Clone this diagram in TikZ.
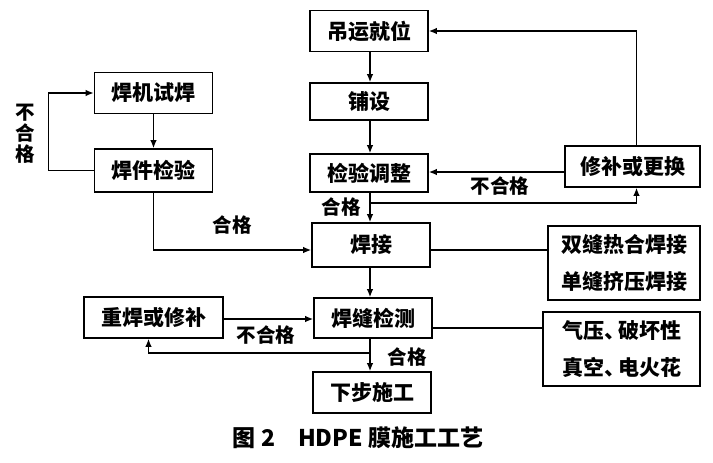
\documentclass[tikz,border=0pt]{standalone}
\usepackage{fontspec}
\setmainfont{Noto Sans CJK SC}
\usetikzlibrary{arrows.meta,positioning}

\begin{document}
\begin{tikzpicture}[
  x=1pt, y=-1pt,
  stepbox/.style={draw, line width=1.6pt, minimum width=118pt,
    minimum height=41pt, inner sep=0pt,
    font=\fontsize{21}{24}\selectfont\bfseries},
  notebox/.style={stepbox, align=center,
    font=\fontsize{21}{37}\selectfont\bfseries},
  arrow/.style={-{Latex[length=8pt,width=6.5pt]}, line width=1.4pt},
  link/.style={line width=1.4pt},
  tag/.style={font=\fontsize{19.5}{21}\selectfont\bfseries, inner sep=1pt}
]
  \useasboundingbox (0,0) rectangle (713,463);
  % main column
  \node[stepbox] (hoist) at (369,31) {吊运就位};
  \node[stepbox,minimum height=37pt] (lay) at (369,101.5) {铺设};
  \node[stepbox,minimum height=38pt] (adjust) at (369,173) {检验调整};
  \node[stepbox,minimum height=44pt] (weld) at (371,245) {焊接};
  \node[stepbox,minimum height=40pt] (seam) at (373,318) {焊缝检测};
  \node[stepbox] (next) at (372,392.5) {下步施工};
  % side boxes
  \node[stepbox,minimum width=135pt] (repair) at (632.5,166.5) {修补或更换};
  \node[stepbox] (trial) at (153.5,93) {焊机试焊};
  \node[stepbox,minimum height=43pt] (check) at (153.5,170.5) {焊件检验};
  \node[stepbox,minimum width=139pt] (reweld) at (153.5,317.5) {重焊或修补};
  \node[notebox,minimum width=152pt,minimum height=74pt] (methods) at (624,263)
    {双缝热合焊接\\单缝挤压焊接};
  \node[notebox,minimum width=157pt,minimum height=74pt] (tests) at (621.5,349)
    {气压、\kern-7pt破坏性\\真空、\kern-7pt电火花};
  \coordinate (split1) at (370,203);
  \coordinate (split2) at (370,353);

  \draw[arrow] (hoist.south -| 370,0) -- (lay.north -| 370,0);
  \draw[arrow] (lay.south -| 370,0) -- (adjust.north -| 370,0);
  \draw[arrow] (adjust.south -| 370,0) -- (weld.north -| 370,0);
  \draw[arrow] (split1) -| ([xshift=4pt]repair.south);
  \draw[arrow] (repair.west |- 0,172) -- (adjust.east |- 0,172);
  \draw[arrow] ([xshift=4pt]repair.north) |- (hoist.east);
  \node[tag] at (500,186) {不合格};
  \node[tag] at (341,207) {合格};

  \draw[arrow] (trial) -- (check);
  \draw[arrow] (check.west) -- ++(-45,0) |- (trial.west);
  \node[tag,align=center] at (25,134) {不\\合\\格};
  \draw[arrow] (check.south) |- ([yshift=-5pt]weld.west);
  \node[tag] at (232,225) {合格};
  \draw[link] ([yshift=-5pt]weld.east) -- ([yshift=-5pt]weld.east -| methods.west);

  \draw[arrow] (weld.south -| 370,0) -- (seam.north -| 370,0);
  \draw[arrow] (reweld.east |- 0,319) -- (seam.west |- 0,319);
  \node[tag] at (266,335) {不合格};
  \draw[arrow] (seam.south -| 370,0) -- (next.north -| 370,0);
  \draw[arrow] (split2) -| ([xshift=-5pt]reweld.south);
  \node[tag] at (407,357) {合格};
  \draw[link] ([yshift=-10pt]seam.east) -- ([yshift=-10pt]seam.east -| tests.west);

  \node[font=\fontsize{23}{26}\selectfont\bfseries] (caption) at (358,438)
    {图 2\quad HDPE 膜施工工艺};
\end{tikzpicture}
\end{document}
